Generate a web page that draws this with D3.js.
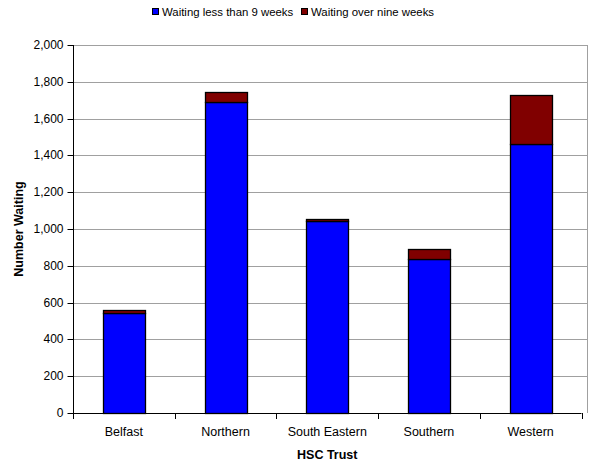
<!DOCTYPE html>
<html>
<head>
<meta charset="utf-8">
<script src="https://cdn.jsdelivr.net/npm/d3@7"></script>
<style>
html,body{margin:0;padding:0;background:#fff;}
svg{display:block;font-family:"Liberation Sans",Arial,sans-serif;}
</style>
</head>
<body>
<svg id="chart" width="589" height="463"></svg>
<script>
const categories = ["Belfast", "Northern", "South Eastern", "Southern", "Western"];
const under9 = [543, 1692, 1043, 839, 1462];
const over9 = [17, 55, 10, 53, 265];
const seriesNames = ["Waiting less than 9 weeks", "Waiting over nine weeks"];
const seriesColors = ["#0000FF", "#800000"];
const yTicks = [0, 200, 400, 600, 800, 1000, 1200, 1400, 1600, 1800, 2000];

(function () {
const svg = d3.select("#chart");
const pL = 73, pR = 581.5, pT = 45, pB = 413, frameRight = 587;

const x = d3.scaleBand().domain(categories).range([pL, pR]).paddingInner(0.59).paddingOuter(0.295);
const y = d3.scaleLinear().domain([0, 2000]).range([pB, pT]);

// gridlines
svg.append("g").selectAll("line").data(yTicks.filter(d => d > 0)).join("line")
  .attr("x1", pL).attr("x2", frameRight)
  .attr("y1", d => Math.round(y(d)) + 0.5).attr("y2", d => Math.round(y(d)) + 0.5)
  .attr("stroke", "#a0a0a0").attr("stroke-width", 1);
svg.append("line").attr("x1", frameRight + 0.5).attr("x2", frameRight + 0.5)
  .attr("y1", pT).attr("y2", pB).attr("stroke", "#a0a0a0");

// stacked data
const rows = categories.map((c, i) => ({cat: c, a: under9[i], b: over9[i]}));
const stack = d3.stack().keys(["a", "b"])(rows);

svg.append("g").selectAll("g").data(stack).join("g")
  .attr("fill", (d, i) => seriesColors[i])
  .selectAll("rect").data(d => d).join("rect")
  .attr("x", d => Math.round(x(d.data.cat)) + 0.5)
  .attr("width", Math.round(x.bandwidth()))
  .attr("y", d => Math.round(y(d[1])) + 0.5)
  .attr("height", d => Math.max(0, Math.round(y(d[0])) - Math.round(y(d[1]))))
  .attr("stroke", "#000").attr("stroke-width", 1.3);

// y axis
const yAxis = d3.axisLeft(y).tickValues(yTicks).tickSize(6).tickPadding(4)
  .tickFormat(d3.format(","));
const gy = svg.append("g").attr("transform", `translate(${pL + 0.5},0)`).call(yAxis);
gy.select(".domain").attr("stroke", "#000").attr("d", `M0,${pB + 0.5}V${pT}`);
gy.selectAll(".tick line").attr("stroke", "#000");
gy.selectAll(".tick").attr("transform", d => `translate(0,${Math.round(y(d)) + 0.5})`);
gy.selectAll("text").attr("font-size", 12).attr("fill", "#000")
  .attr("font-family", "Liberation Sans, Arial, sans-serif");

// x axis
const bandStep = (pR - pL) / categories.length;
const xBoundaries = d3.range(categories.length + 1).map(i => pL + i * bandStep);
const gx = svg.append("g");
gx.append("line").attr("x1", pL).attr("x2", pR).attr("y1", pB + 0.5).attr("y2", pB + 0.5).attr("stroke", "#000");
gx.selectAll("line.t").data(xBoundaries).join("line").attr("class", "t")
  .attr("x1", d => Math.round(d) + 0.5).attr("x2", d => Math.round(d) + 0.5)
  .attr("y1", pB).attr("y2", pB + 6).attr("stroke", "#000");
gx.selectAll("text").data(categories).join("text")
  .attr("x", d => x(d) + x.bandwidth() / 2).attr("y", 436)
  .attr("text-anchor", "middle").attr("font-size", 12.5).attr("fill", "#000").text(d => d);

// axis titles
svg.append("text").attr("x", (pL + pR) / 2).attr("y", 459)
  .attr("text-anchor", "middle").attr("font-size", 12.5).attr("font-weight", "bold").text("HSC Trust");
svg.append("text").attr("transform", `translate(23,${(pT + pB) / 2}) rotate(-90)`)
  .attr("text-anchor", "middle").attr("font-size", 12.5).attr("font-weight", "bold").text("Number Waiting");

// legend
const legendItems = [{x: 152, name: seriesNames[0], color: seriesColors[0]}, {x: 301, name: seriesNames[1], color: seriesColors[1]}];
const lg = svg.append("g");
lg.selectAll("rect").data(legendItems).join("rect")
  .attr("x", d => d.x + 0.5).attr("y", 8.5).attr("width", 6).attr("height", 6)
  .attr("fill", d => d.color).attr("stroke", "#000");
lg.selectAll("text").data(legendItems).join("text")
  .attr("x", d => d.x + 10).attr("y", 16).attr("font-size", 11.4).attr("fill", "#000").text(d => d.name);
})();
</script>
</body>
</html>
